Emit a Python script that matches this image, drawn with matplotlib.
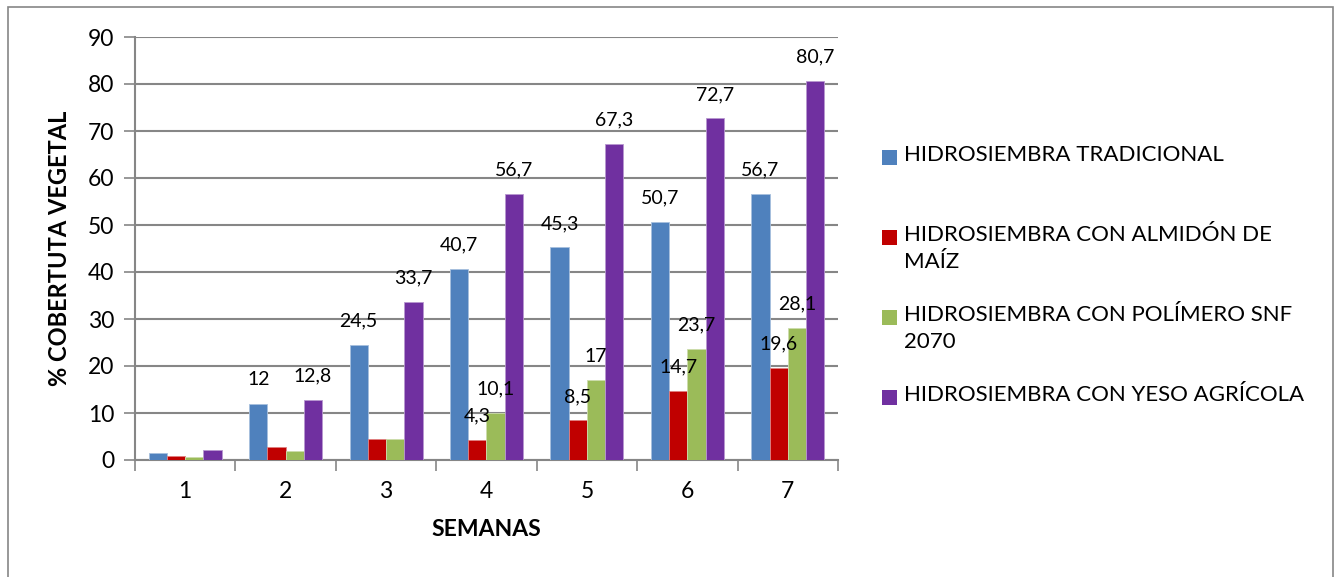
import numpy as np
import matplotlib
matplotlib.use("Agg")
import matplotlib.pyplot as plt
from matplotlib.patches import Rectangle

plt.rcParams['font.family'] = ['Lato', 'DejaVu Sans']

# datos
semanas = ['1', '2', '3', '4', '5', '6', '7']
tradicional = [1.5, 12, 24.5, 40.7, 45.3, 50.7, 56.7]
almidon = [0.8, 2.8, 4.4, 4.3, 8.5, 14.7, 19.6]
polimero = [0.6, 1.9, 4.4, 10.1, 17, 23.7, 28.1]
yeso = [2.1, 12.8, 33.7, 56.7, 67.3, 72.7, 80.7]

# que barras llevan etiqueta
mostrar_tradicional = [False, True, True, True, True, True, True]
mostrar_almidon = [False, False, False, True, True, True, True]
mostrar_polimero = [False, False, False, True, True, True, True]
mostrar_yeso = [False, True, True, True, True, True, True]

nombres = ['HIDROSIEMBRA TRADICIONAL',
           'HIDROSIEMBRA CON ALMIDÓN DE\nMAÍZ',
           'HIDROSIEMBRA CON POLÍMERO SNF\n2070',
           'HIDROSIEMBRA CON YESO AGRÍCOLA']
colores = ['#4F81BD', '#C00000', '#9BBB59', '#7030A0']
bordes = ['#A7C0DE', '#E08080', '#CDDDAC', '#B897CF']

series = [tradicional, almidon, polimero, yeso]
mostrar = [mostrar_tradicional, mostrar_almidon, mostrar_polimero, mostrar_yeso]

fig = plt.figure(figsize=(13.4, 5.77), dpi=100)
ax = fig.add_axes([135 / 1340, 117 / 577, 703 / 1340, 423 / 577])

x = np.arange(1, len(semanas) + 1)
ancho = 0.182
gris = '#868686'

for i, (vals, col, bc, show) in enumerate(zip(series, colores, bordes, mostrar)):
    pos = x + (i - 1.5) * ancho
    ax.bar(pos, vals, width=ancho, color=col, edgecolor=bc, linewidth=0.6, zorder=3)
    for xp, v, s in zip(pos, vals, show):
        if s:
            ax.annotate(f'{v:g}'.replace('.', ','), (xp, v), xytext=(0, 17),
                        textcoords='offset points', ha='center', va='center',
                        fontsize=14, zorder=4)

ax.set_xlim(0.5, 7.5)
ax.set_ylim(0, 90)
ax.set_yticks(range(0, 91, 10))
ax.set_xticks(x)
ax.set_xticklabels(semanas)
ax.set_xticks(np.arange(0.5, 8, 1), minor=True)
ax.tick_params(axis='y', labelsize=16.5, length=8, width=1.2, color=gris, pad=7)
ax.tick_params(axis='x', which='major', labelsize=16.5, length=0, pad=15)
ax.tick_params(axis='x', which='minor', length=8, width=1.2, color=gris)
ax.yaxis.grid(True, color=gris, linewidth=1.5, zorder=0)
ax.set_axisbelow(True)
for lado in ['top', 'right']:
    ax.spines[lado].set_visible(False)
for lado in ['left', 'bottom']:
    ax.spines[lado].set_color(gris)
    ax.spines[lado].set_linewidth(1.5)

ax.set_ylabel('% COBERTUTA VEGETAL', fontsize=17, fontweight='bold', labelpad=12)
ax.set_xlabel('SEMANAS', fontsize=16.5, fontweight='bold', labelpad=12)

# leyenda manual, estilo Excel
filas_y = [158, 238, 318, 398]
for nombre, col, yy in zip(nombres, colores, filas_y):
    fig.patches.append(Rectangle((882 / 1340, 1 - (yy + 7) / 577), 15 / 1340, 15 / 577,
                                 transform=fig.transFigure, facecolor=col, edgecolor='none'))
    fig.text(904 / 1340, 1 - (yy - 13) / 577, nombre, fontsize=16, va='top', ha='left',
             linespacing=1.45)

# borde del grafico
fig.patches.append(Rectangle((8 / 1340, -0.01), 1325 / 1340, 1 - 7 / 577 + 0.01,
                             transform=fig.transFigure, facecolor='none', edgecolor=gris,
                             linewidth=1.2))

fig.savefig('out.png', dpi=100)
